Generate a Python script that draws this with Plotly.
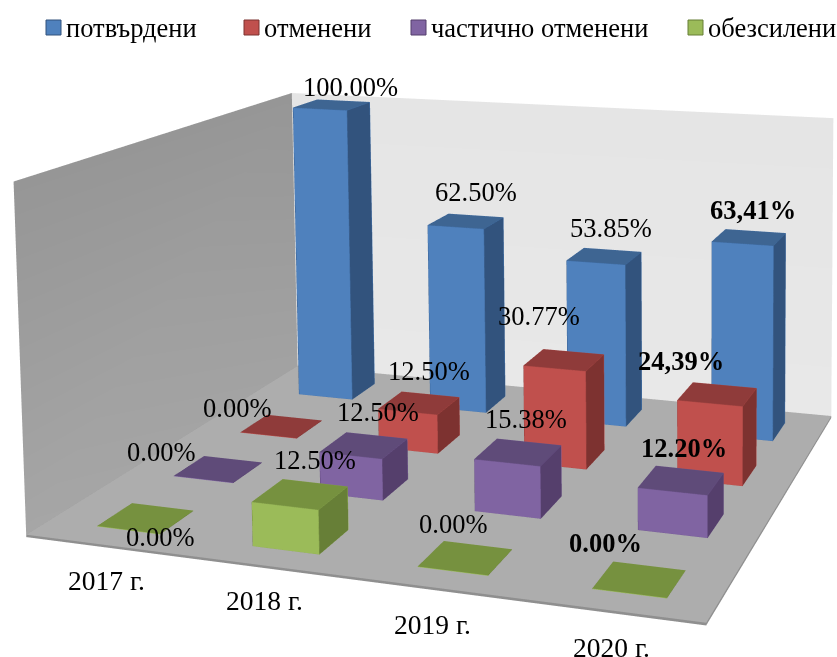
import numpy as np
import plotly.graph_objects as go

years = ["2017 г.", "2018 г.", "2019 г.", "2020 г."]
series = ["потвърдени", "отменени", "частично отменени", "обезсилени"]
v_confirmed = [100.00, 62.50, 53.85, 63.41]
v_cancelled = [0.00, 12.50, 30.77, 24.39]
v_partial = [0.00, 12.50, 15.38, 12.20]
v_void = [0.00, 12.50, 0.00, 0.00]
values = [v_confirmed, v_cancelled, v_partial, v_void]
labels = [["100.00%", "62.50%", "53.85%", "<b>63,41%</b>"],
          ["0.00%", "12.50%", "30.77%", "<b>24,39%</b>"],
          ["0.00%", "12.50%", "15.38%", "<b>12.20%</b>"],
          ["0.00%", "12.50%", "0.00%", "<b>0.00%</b>"]]
# where the labels sit on the page
label_px = [[(350,87),(476,192),(611,228),(753,210)],
            [(237,408),(429,371),(539,316),(681,361)],
            [(161,452),(378,412),(526,419),(684,448)],
            [(160,537),(315,460),(453,524),(606,543)]]
year_px = [(106,581),(264,601),(432,625),(611,648)]

W, H = 837, 657
f = (H/2)/np.tan(np.pi/8)
K = np.array([[f,0,W/2],[0,-f,H/2],[0,0,1.0]])
ZMAX = 100.0
corners = np.array([[0,0,0],[4,0,0],[4,4,0],[0,4,0],[0,0,ZMAX],[0,4,ZMAX],[4,4,ZMAX]],float)
targets = np.array([[28,533],[707,623],[832,416],[295,367],[11,183],[295,92],[832,118]],float)

# Projection of the chart box on the page
T = np.diag([1/4,1/4,1/ZMAX,1.0]); S = np.diag([1/1000,1/1000,1.0])
A=[]
for w,t in zip(corners,targets):
    X=T@np.r_[w,1]; u,v=t/1000
    A.append(np.r_[X,0,0,0,0,-u*X]); A.append(np.r_[0,0,0,0,X,-v*X])
Pm=np.linalg.svd(np.array(A))[2][-1].reshape(3,4)
Pm=np.linalg.inv(S)@Pm@T
def page(w):
    h=Pm@np.r_[w,1]; return h[:2]/h[2]
Q=np.linalg.inv(K)@Pm
if (Q@np.r_[2,2,0,1])[2]<0: Q=-Q
Q=Q/np.linalg.norm(Q[:3,:3])
Q3,q4=Q[:,:3],Q[:,3]
g=np.linalg.inv(Q3).T@np.array([0,0,1.0]); g/=np.linalg.norm(g)
e3=g; e1=np.array([1.0,0,0])-g[0]*g; e1/=np.linalg.norm(e1); e2=np.cross(e1,e3)
E=np.vstack([e1,e2,e3])
box_pts=np.array([[x,y,z] for x in (0,4) for y in (0,4) for z in (0,ZMAX)],float)
n=(E@(Q3@box_pts.T+q4[:,None])).T
s=2.0/max(np.ptp(n[:,0]),np.ptp(n[:,1]))
def scene_xy(x,y,z=0.0):
    return E@(Q3@np.array([x,y,z])+q4)*s
n=n*s
xr=[n[:,0].min()-.05,n[:,0].max()+.05]; yr=[n[:,1].min()-.05,n[:,1].max()+.05]
zr=[-3.0,ZMAX+3.0]
k=(n[:,2].max()-n[:,2].min())/ZMAX
asp=(xr[1]-xr[0],yr[1]-yr[0],k*(zr[1]-zr[0]))
z0=scene_xy(0,0,0)[2]
mid=np.array([np.mean(xr),np.mean(yr),z0+k*np.mean(zr)])
eye=-mid; fwd=E[:,2]; upv=E[:,1]; cen=eye+fwd*np.linalg.norm(eye)

fig=go.Figure()
def mesh(pts,tri,cols=None,vcols=None):
    p=np.array([scene_xy(*q) for q in pts])
    kw=dict(facecolor=cols) if cols is not None else dict(vertexcolor=vcols)
    fig.add_trace(go.Mesh3d(x=p[:,0],y=p[:,1],z=[q[2] for q in pts],i=[t[0] for t in tri],j=[t[1] for t in tri],k=[t[2] for t in tri],
        flatshading=True,showlegend=False,hoverinfo="skip",lighting=dict(ambient=1,diffuse=0,specular=0,fresnel=0,roughness=1),**kw))
def box(x0,x1,y0,y1,z0,z1,cols):
    pts=[(x0,y0,z0),(x1,y0,z0),(x1,y1,z0),(x0,y1,z0),(x0,y0,z1),(x1,y0,z1),(x1,y1,z1),(x0,y1,z1)]
    tri=[(0,1,2),(0,2,3),(4,5,6),(4,6,7),(0,1,5),(0,5,4),(1,2,6),(1,6,5),(3,2,6),(3,6,7),(0,3,7),(0,7,4)]
    mesh(pts,tri,cols=[cols[1]]*4+[cols[0]]*2+[cols[2]]*2+[cols[0]]*2+[cols[2]]*2)
    return pts
box(0,4,0,4,-0.7,0,["#8F8F8F","#ADADAD","#8F8F8F"])
mesh([(0,0,0),(0,4,0),(0,4,ZMAX),(0,0,ZMAX)],[(0,1,2),(0,2,3)],vcols=["#A6A6A6","#A2A2A2","#969696","#969696"])
mesh([(0,4,0),(4,4,0),(4,4,ZMAX),(0,4,ZMAX)],[(0,1,2),(0,2,3)],vcols=["#E8E8E8","#E8E8E8","#E5E5E5","#E5E5E5"])
pal=[("#4F81BD","#3E6592","#32537D"),("#C0504D","#8F3B3A","#7D3230"),("#8064A2","#5F4B79","#553F6C"),("#9BBB59","#76913F","#677F37")]
edge_col=["#3F6CA3","#A84643","#6B5289","#84A04A"]
HALF_W,HALF_D=.205,.22
X_OFF=.025; ROW_STEP=1.005
edges=[(0,1),(1,2),(4,5),(5,6),(6,7),(7,4),(0,4),(1,5),(2,6)]
for s_i,row in enumerate(values):
    yc=3.5-ROW_STEP*s_i; ex,ey,ez=[],[],[]
    for i,v in enumerate(row):
        xc=i+.5+X_OFF
        pts=box(xc-HALF_W,xc+HALF_W,yc-HALF_D,yc+HALF_D,0,max(v,0.15),pal[s_i])
        if v>0:
            for a_,b_ in edges:
                for q in (pts[a_],pts[b_]):
                    c=scene_xy(*q); ex.append(c[0]); ey.append(c[1]); ez.append(q[2])
                ex.append(None); ey.append(None); ez.append(None)
    fig.add_trace(go.Scatter3d(x=ex,y=ey,z=ez,mode="lines",line=dict(color=edge_col[s_i],width=1),showlegend=False,hoverinfo="skip"))

FONT="Liberation Serif"; FS=26.5
sa=[]
for s_i,row in enumerate(values):
    yc=3.5-ROW_STEP*s_i
    for i,v in enumerate(row):
        xc=i+.5+X_OFF
        a=page((xc,yc,v)); t=label_px[s_i][i]; c=scene_xy(xc,yc,v)
        sa.append(dict(x=float(c[0]),y=float(c[1]),z=float(v),text=labels[s_i][i],showarrow=False,font=dict(family=FONT,size=FS,color="black"),xshift=float(t[0]-a[0]),yshift=float(a[1]-t[1])))
for i,y in enumerate(years):
    a=page((i+.5,0,0)); t=year_px[i]; c=scene_xy(i+.5,0,0)
    sa.append(dict(x=float(c[0]),y=float(c[1]),z=0.0,text=y,showarrow=False,font=dict(family=FONT,size=27.5,color="black"),xshift=float(t[0]-a[0]),yshift=float(a[1]-t[1])))

# legend
leg_x=[46,244,411,688]
shapes=[];ann=[]
for i,name in enumerate(series):
    shapes.append(dict(type="rect",xref="paper",yref="paper",x0=leg_x[i]/W,x1=(leg_x[i]+15)/W,y0=1-20/H,y1=1-35/H,fillcolor=pal[i][0],line=dict(color=pal[i][2],width=1)))
    ann.append(dict(x=(leg_x[i]+18)/W,y=1-28/H,xref="paper",yref="paper",xanchor="left",yanchor="middle",text=name,showarrow=False,font=dict(family=FONT,size=FS,color="black")))
fig.update_layout(width=W,height=H,margin=dict(l=0,r=0,t=0,b=0,pad=0),paper_bgcolor="white",annotations=ann,shapes=shapes,showlegend=False,
    scene=dict(domain=dict(x=[0,1],y=[0,1]),annotations=sa,
        xaxis=dict(visible=False,range=xr),yaxis=dict(visible=False,range=yr),zaxis=dict(visible=False,range=zr),
        aspectmode="manual",aspectratio=dict(x=asp[0],y=asp[1],z=asp[2]),
        camera=dict(eye=dict(x=eye[0],y=eye[1],z=eye[2]),center=dict(x=cen[0],y=cen[1],z=cen[2]),up=dict(x=upv[0],y=upv[1],z=upv[2]),projection=dict(type="perspective"))))
fig.write_html("out.html",config=dict(displayModeBar=False),post_script="document.body.style.margin='0';document.body.style.overflow='hidden';window.dispatchEvent(new Event('resize'));")
